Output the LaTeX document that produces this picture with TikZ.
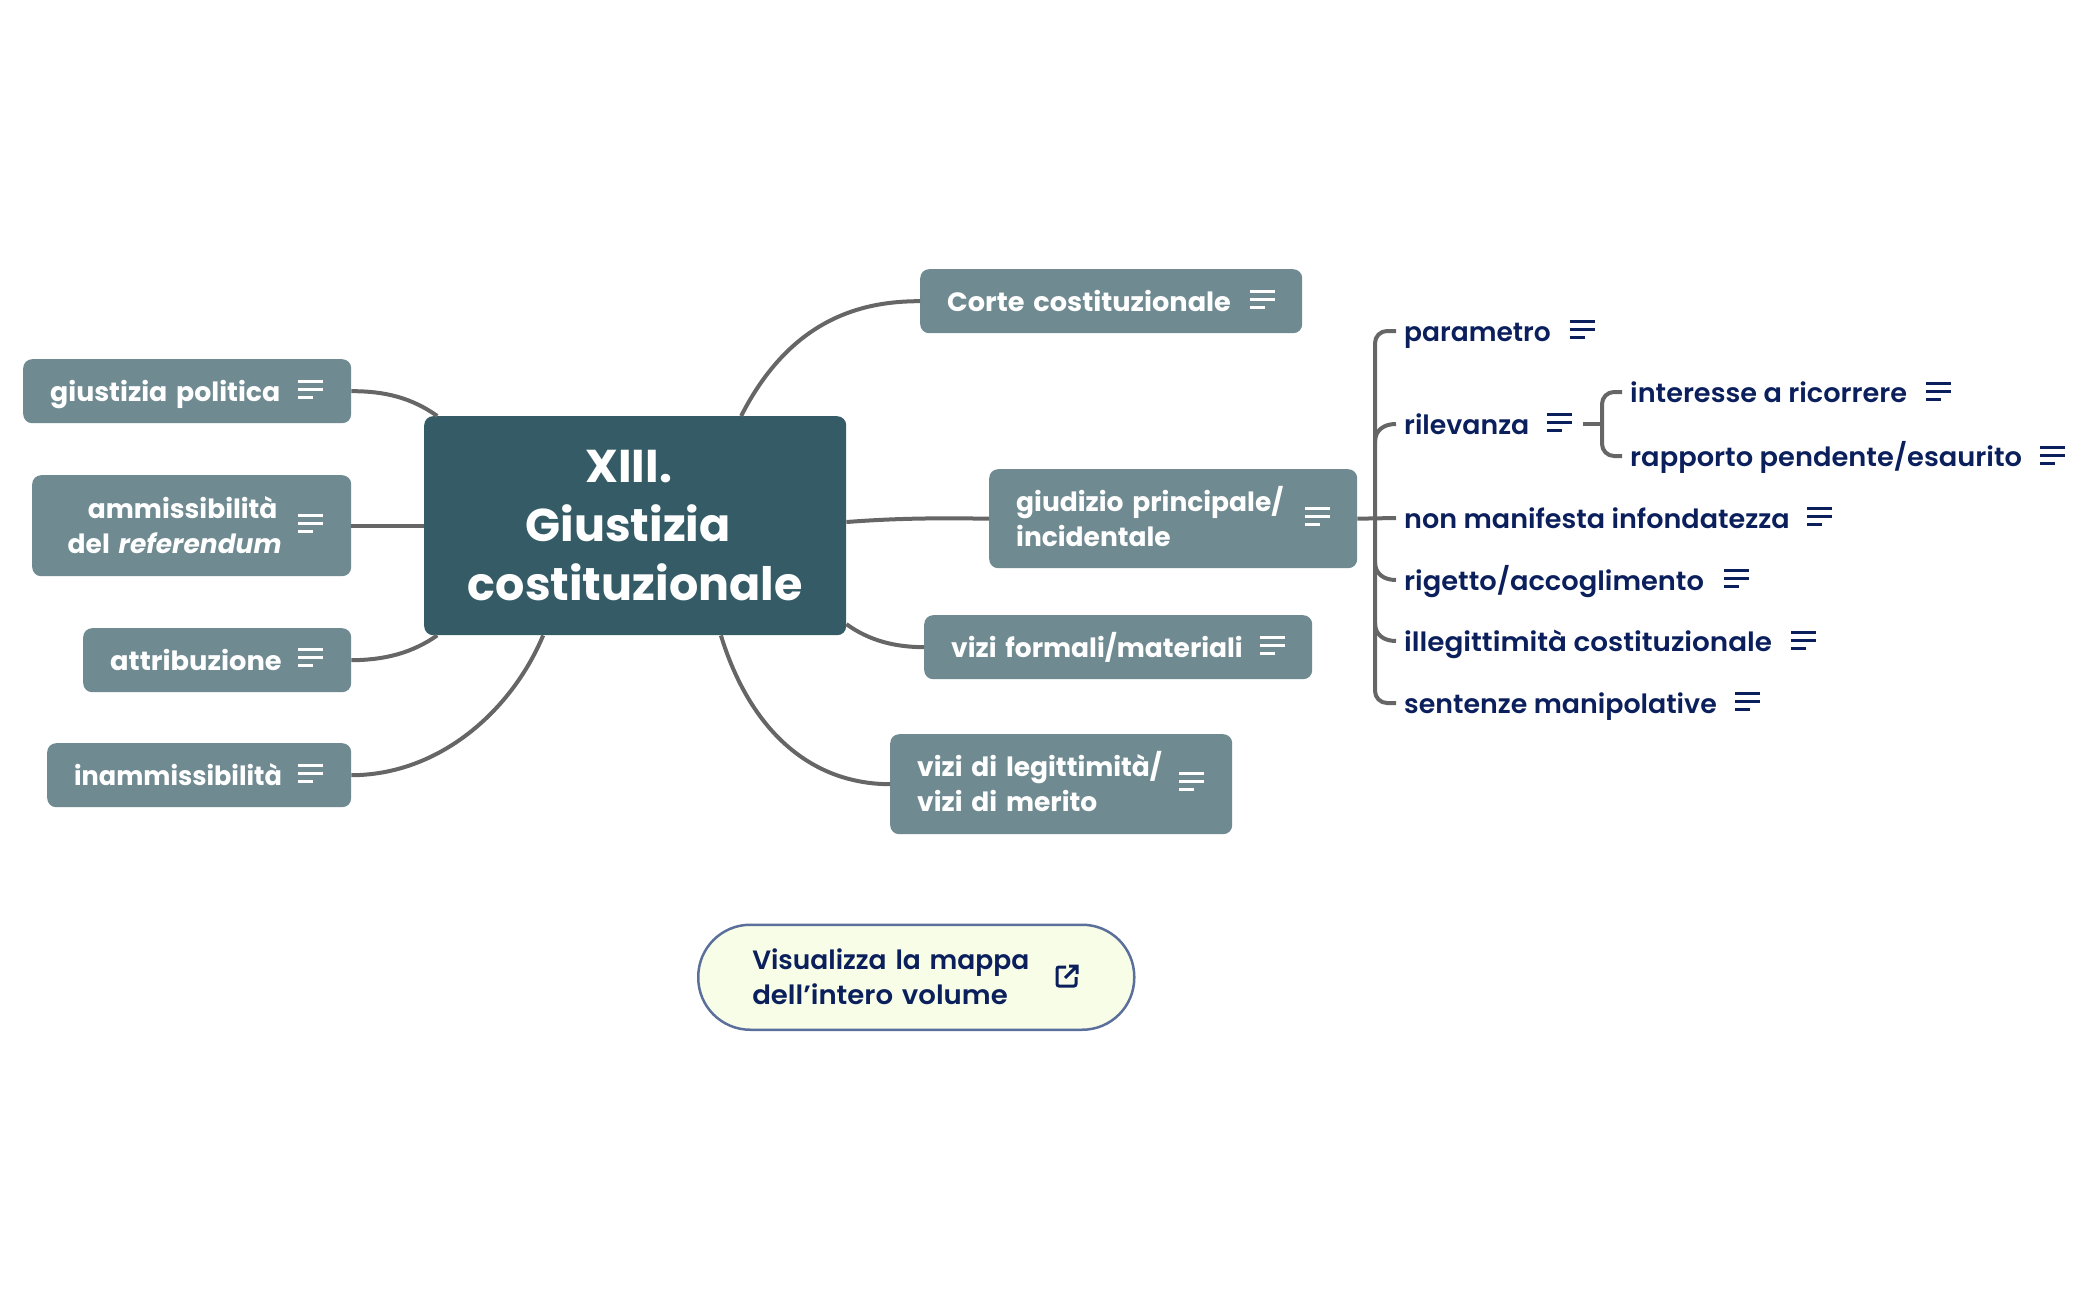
\documentclass[tikz,border=0pt]{standalone}
\usepackage{fontspec}
\setmainfont{Poppins}[UprightFont=* SemiBold,BoldFont=* Bold,ItalicFont=* SemiBold Italic,BoldItalicFont=* Bold Italic]
\definecolor{rootc}{HTML}{355C66}
\definecolor{boxc}{HTML}{6F8B91}
\definecolor{navy}{HTML}{0A1F5C}
\definecolor{linec}{HTML}{666666}
\definecolor{pillfill}{HTML}{F7FDE6}
\definecolor{pilldraw}{HTML}{5B6F9C}
\tikzset{
  conn/.style={draw=linec,line width=4pt},
  rootbox/.style={fill=rootc,text=white,rounded corners=9pt,align=center,inner sep=0pt,font=\bfseries\fontsize{46}{59}\selectfont},
  topic/.style={fill=boxc,text=white,rounded corners=9pt,inner ysep=0pt,inner xsep=27pt,font=\bfseries\fontsize{26.5}{35}\selectfont},
  leaf/.style={text=navy,anchor=west,inner ysep=0pt,inner xsep=8pt,text height=27.5pt,text depth=7.5pt,font=\fontsize{26.5}{35}\selectfont},
  pillbox/.style={fill=pillfill,draw=pilldraw,line width=2.5pt,rounded corners=52pt,text=navy,inner xsep=54pt,inner ysep=0pt,align=left,font=\fontsize{26.5}{35}\selectfont},
  noteline/.style={line width=3pt}
}
\newcommand\st{\rule[-7.5pt]{0pt}{35pt}}
\newcommand\sx[2]{{\addfontfeature{FakeStretch=#1}#2}}
\newcommand\noteic[3]{\draw[noteline,#3] (#1,#2-8) -- ++(25,0) (#1,#2) -- ++(25,0) (#1,#2+8) -- ++(15,0);}
\newcommand\topicbox[7][left]{\node[topic,anchor=north west,align=#1,minimum width={(#5-#3)*1pt},minimum height={(#6-#4)*1pt},text width={(#5-#3-54)*1pt}] (#2) at (#3,#4) {#7};}
\begin{document}
\begin{tikzpicture}[x=1pt,y=-1pt]
\useasboundingbox (0,0) rectangle (2099,1300);
\node[rootbox,anchor=north west,minimum width=422pt,minimum height=219pt] (root) at (424,416) {XIII.\rule{13pt}{0pt}\\Giustizia\rule{14pt}{0pt}\\costituzionale};
\topicbox{corte}{920}{269}{1302}{333}{\st \sx{1.025}{Corte costituzionale}}
\topicbox{gpol}{23}{359}{351}{423}{\st \sx{1.01}{giustizia politica}}
\topicbox[center]{amm}{32}{475}{351}{576}{\st ammissibilità\rule{18pt}{0pt}\\\st del \textit{referendum}\rule{34pt}{0pt}}
\topicbox{attr}{83}{628}{351}{692}{\st \sx{1.03}{attribuzione}}
\topicbox{inam}{47}{743}{351}{807}{\st \sx{0.965}{inammissibilità}}
\topicbox{giud}{989}{469}{1357}{568}{\st giudizio principale/\\\st incidentale}
\topicbox{vform}{924}{615}{1312}{679}{\st vizi formali/materiali}
\topicbox{vleg}{890}{734}{1232}{834}{\st vizi di legittimità/\\\st vizi di merito}
\foreach \x/\y in {1250/299,298/389,298/523,298/657,298/773,1305/516,1260/645,1179/781}{\noteic{\x}{\y}{white}}
\node[leaf] (param) at (1396,331) {parametro};
\node[leaf] (rilev) at (1396,424) {\sx{1.01}{rilevanza}};
\node[leaf] (nonman) at (1396,518) {\sx{1.02}{non manifesta infondatezza}};
\node[leaf] (rig) at (1396,580) {\sx{1.03}{rigetto/accoglimento}};
\node[leaf] (illeg) at (1396,641) {\sx{1.05}{illegittimità costituzionale}};
\node[leaf] (sent) at (1396,703) {\sx{1.013}{sentenze manipolative}};
\node[leaf] (inter) at (1622,392) {\sx{1.025}{interesse a ricorrere}};
\node[leaf] (rapp) at (1622,456) {\sx{1.03}{rapporto pendente/esaurito}};
\foreach \x/\y in {1570/329,1547/422,1807/516,1724/578,1791/640,1735/701,1926/391,2040/455}{\noteic{\x}{\y}{navy}}
\node[pillbox,anchor=north west,minimum width=436pt,minimum height=105pt,text width=328pt] (pill) at (697,923.5) {\st Visualizza la mappa\\\st \sx{1.04}{dell’intero volume}};
\draw[navy,line width=3pt,rounded corners=2pt] (1066,967) -- (1057,967) -- (1057,986) -- (1076,986) -- (1076,977);
\draw[navy,line width=3pt] (1065,978) -- (1077,966) (1069,966) -- (1077,966) -- (1077,974);
% connectors
\draw[conn] (root.46) .. controls (790,320) and (860,301) .. (corte.west);
\draw[conn] (gpol.east) .. controls (385,391) and (412,398) .. (root.151);
\draw[conn] (amm.east) -- (root.west);
\draw[conn] (attr.east) .. controls (385,660) and (412,653) .. (root.209);
\draw[conn] (inam.east) .. controls (440,775) and (512,710) .. (root.230.5);
\draw[conn] (root.1.6) .. controls (900,518) and (940,518) .. (giud.west);
\draw[conn] (root.-25.8) .. controls (870,641) and (895,647) .. (vform.west);
\draw[conn] (root.-52) .. controls (750,730) and (810,784) .. (vleg.west);
% right bracket
\coordinate (trunk) at (1375,518);
\draw[conn] (giud.east) -- (nonman.west);
\draw[conn,rounded corners=12pt] (param.west) -- (trunk |- param.west) -- (trunk |- sent.west) -- (sent.west);
\draw[conn] (rilev.west) .. controls (1384,424) and (1375,430) .. (1375,442);
\draw[conn] (rig.west) .. controls (1384,580) and (1375,574) .. (1375,562);
\draw[conn] (illeg.west) .. controls (1384,641) and (1375,635) .. (1375,623);
\coordinate (sub) at (1602,424);
\coordinate (rilout) at (1583,424);
\draw[conn] (rilout) -- (sub);
\draw[conn,rounded corners=12pt] (inter.west) -- (sub |- inter.west) -- (sub |- rapp.west) -- (rapp.west);
\end{tikzpicture}
\end{document}
